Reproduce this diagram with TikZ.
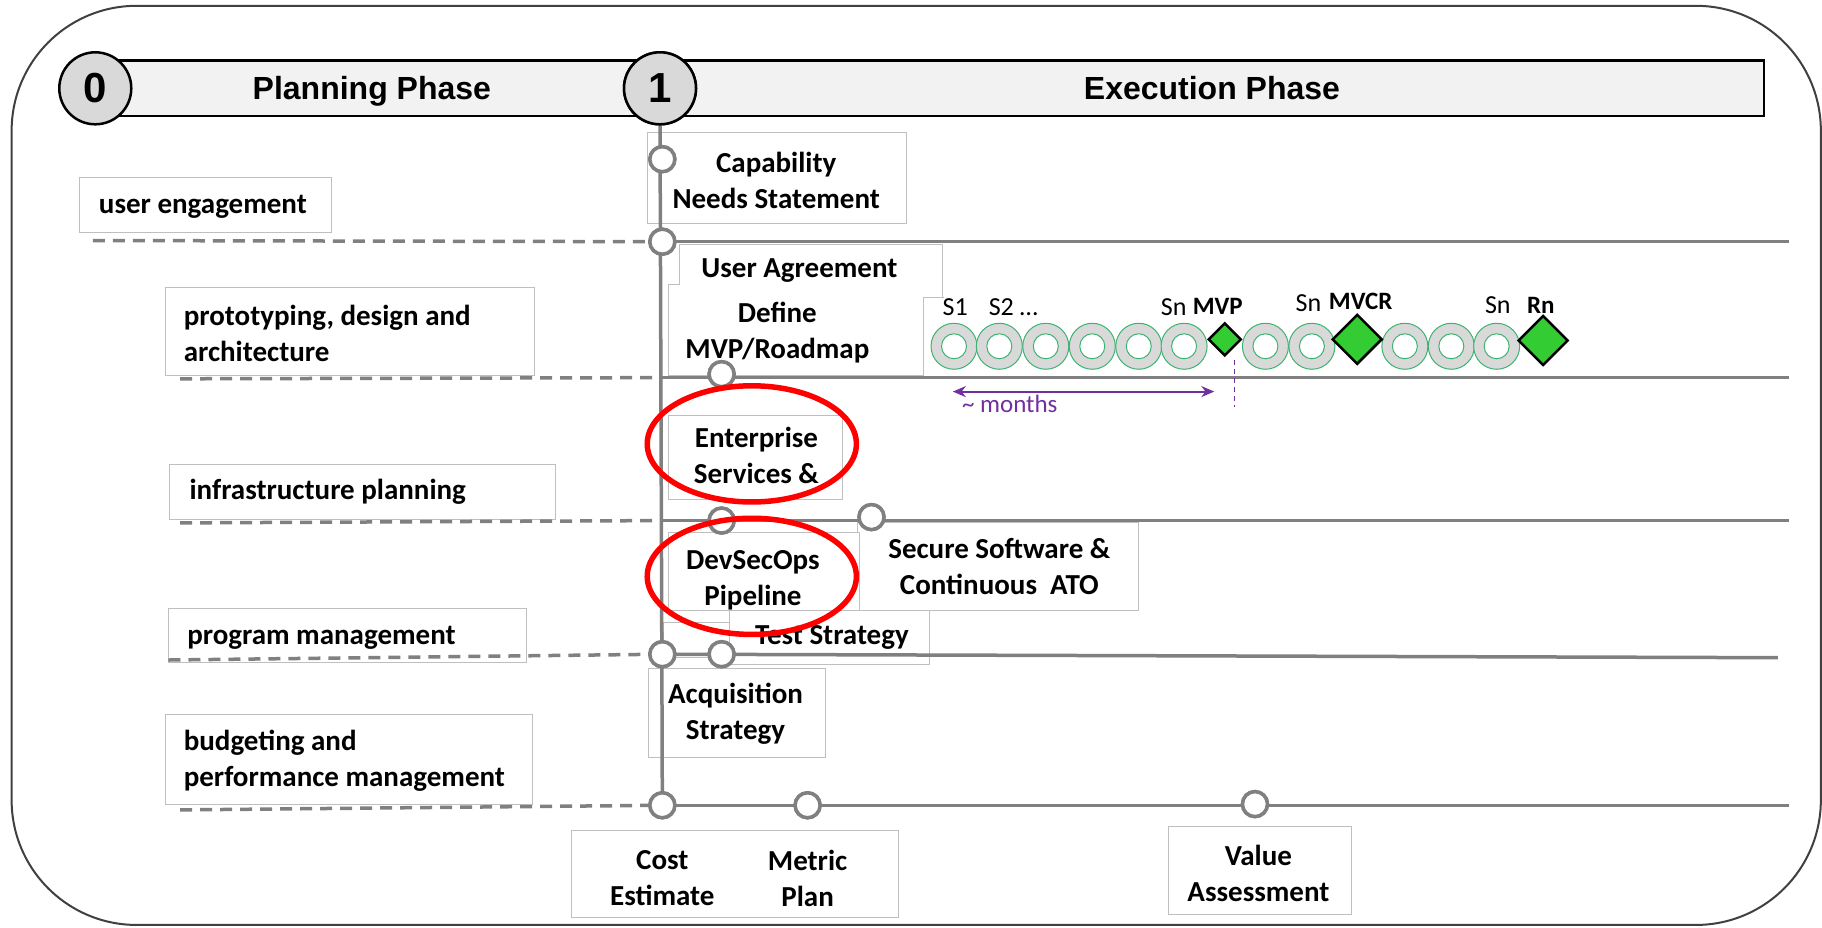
\documentclass[tikz,border=0pt]{standalone}
\usepackage{fontspec}
\setmainfont{Carlito}
\newfontfamily\arialf{Liberation Sans}
\usetikzlibrary{fit,arrows.meta,shapes.geometric}
\definecolor{outerc}{HTML}{404040}
\definecolor{hdrfill}{HTML}{F2F2F2}
\definecolor{phfill}{HTML}{D9D9D9}
\definecolor{boxgray}{HTML}{BFBFBF}
\definecolor{lgray}{HTML}{808080}
\definecolor{sgreen}{HTML}{3CB371}
\definecolor{dgreen}{HTML}{33CC33}
\definecolor{purp}{HTML}{7030A0}
\definecolor{redc}{HTML}{FF0000}
\begin{document}
\begin{tikzpicture}[x=1.162pt,y=-1.162pt,
  lbox/.style={draw=boxgray, line width=1pt, fill=white, inner sep=0pt},
  ltxt/.style={font=\bfseries\fontsize{29}{36}\selectfont, align=center, inner sep=0pt},
  lefttxt/.style={ltxt, align=left, anchor=west},
  htxt/.style={font=\arialf\bfseries\fontsize{32}{38}\selectfont, inner sep=0pt, anchor=base},
  phase/.style={circle, draw=black, line width=2.5pt, fill=phfill, minimum size=72pt, inner sep=0pt, font=\arialf\bfseries\fontsize{42}{46}\selectfont},
  ms/.style={circle, draw=lgray, line width=3.5pt, fill=white, minimum size=25pt, inner sep=0pt},
  solidl/.style={draw=lgray, line width=3.5pt},
  dashl/.style={draw=lgray, line width=3.5pt, dash pattern=on 12pt off 8pt},
  sprO/.style={circle, draw=sgreen, line width=1pt, fill=phfill, minimum size=46pt, inner sep=0pt},
  sprI/.style={circle, draw=sgreen, line width=1pt, fill=white, minimum size=25pt, inner sep=0pt},
  dmd/.style={diamond, draw=black, line width=2.5pt, fill=dgreen, inner sep=0pt, aspect=1},
  stxt/.style={font=\fontsize{26}{30}\selectfont, inner sep=0pt},
  sbtxt/.style={font=\bfseries\fontsize{25}{30}\selectfont, inner sep=0pt},
  ellip/.style={draw=redc, line width=5.5pt}
]
\useasboundingbox (0,0) rectangle (1568,798);

% outer frame
\draw[draw=outerc, line width=2pt, rounded corners=125pt] (10,5) rectangle (1567,796);

% header
\node[draw=black, line width=2.5pt, fill=hdrfill, inner sep=0pt, fit={(82,52) (1518,100)}] (hdr) {};
\node[htxt] (tplan) at (320,86) {Planning Phase};
\node[htxt] (texec) at (1043,86) {Execution Phase};

% left label boxes
\node[lbox, fit={(68,153) (285,200)}] (bue) {};
\node[lbox, fit={(142,247) (460,323)}] (bpd) {};
\node[lbox, fit={(146,400) (478,447)}] (bip) {};
\node[lbox, fit={(145,524) (453,570)}] (bpm) {};
\node[lbox, fit={(142,615) (458,692)}] (bbp) {};

% middle boxes
\node[lbox, fit={(557,114) (780,192)}] (bcap) {};
% merged outline of User Agreement / Define boxes and the sprint-row box corner
\draw[draw=boxgray, line width=1pt, fill=white]
  (585,210) -- (811,210) -- (811,256) -- (795,256) -- (795,323) -- (575,323)
  -- (575,245) -- (585,245) -- cycle;
\draw[draw=boxgray, line width=1pt] (795,323) -- (795,256) -- (812,256);
\node[lbox, fit={(575,358) (725,430)}] (bent) {};
\node[lbox, fit={(738,450) (980,525)}] (bsec) {};
\node[lbox, fit={(575,458) (740,525)}] (bdev) {};
\node[lbox, fit={(628,525) (800,572)}] (btest) {};
\node[lbox, fit={(571,536) (628,566)}] (bsmall) {};
\node[lbox, fit={(558,575) (710,652)}] (bacq) {};
\node[lbox, fit={(492,715) (773,790)}] (bcost) {};
\node[lbox, fit={(1006,711) (1163,787)}] (bval) {};

% milestone nodes
\node[phase] (p0) at (82,76) {0};
\node[phase] (p1) at (568,76) {1};
\node[ms] (mcap) at (570,137) {};
\node[ms] (mue) at (570,208) {};
\node[ms] (mdef) at (621,322) {};
\node[ms] (ment) at (621,448) {};
\node[ms] (msec) at (750,445) {};
\node[ms] (macq) at (570,563) {};
\node[ms] (mtest) at (621,563) {};
\node[ms] (mcost) at (570,693) {};
\node[ms] (mmet) at (695,693) {};
\node[ms] (mval) at (1080,692) {};

% coordinates for line ends
\coordinate (d1) at (80,207);  \coordinate (r1) at (1540,208);
\coordinate (d2) at (155,326); \coordinate (v2) at (570,325); \coordinate (r2) at (1540,325);
\coordinate (d3) at (155,450); \coordinate (v3) at (570,448); \coordinate (r3) at (1540,448);
\coordinate (d4) at (145,568); \coordinate (r4) at (1530,566);
\coordinate (d5) at (155,697); \coordinate (r5) at (1540,693);

% lines
\draw[solidl] (p1.south) -- (mcost.center);
\draw[dashl] (d1) -- (mue.center);
\draw[solidl] (mue.center) -- (r1);
\draw[dashl] (d2) -- (v2);
\draw[solidl] (v2) -- (r2);
\draw[dashl] (d3) -- (v3);
\draw[solidl] (v3) -- (r3);
\draw[dashl] (d4) -- (macq.center);
\draw[solidl] (macq.center) -- (r4);
\draw[dashl] (d5) -- (mcost.center);
\draw[solidl] (mcost.center) -- (r5);

% redraw milestones on top of the lines
\foreach \n in {mcap,mue,mdef,ment,msec,macq,mtest,mcost,mmet,mval}
  \node[ms] at (\n) {};
\node[phase] at (p1) {1};

% sprint row
\foreach \i/\x in {1/821,2/860,3/900,4/940,5/980,6/1019,7/1089,8/1129,9/1209,10/1249,11/1288}{
  \node[sprO] (sp\i) at (\x,298) {};
  \node[sprI] at (sp\i) {};
}
\node[dmd, minimum width=33pt, minimum height=33pt] (dmvp) at (1054,292) {};
\node[dmd, minimum width=50pt, minimum height=50pt] (dmvcr) at (1168,292) {};
\node[dmd, minimum width=50pt, minimum height=50pt] (drn) at (1328,293) {};

\node[stxt] (ls1) at (822,264) {S1};
\node[stxt] (ls2) at (872,264) {S2 …};
\node[stxt] (lsn1) at (1010,264) {Sn};
\node[sbtxt] (lmvp) at (1048,264) {MVP};
\node[stxt] (lsn2) at (1126,261) {Sn};
\node[sbtxt] (lmvcr) at (1171,259) {MVCR};
\node[stxt] (lsn3) at (1289,263) {Sn};
\node[sbtxt] (lrn) at (1326,263) {Rn};

% months arrow
\coordinate (am1) at (820,337);
\coordinate (am2) at (1045,337);
\draw[draw=purp, line width=2pt, {Stealth[length=13pt,width=11pt]}-{Stealth[length=13pt,width=11pt]}] (am1) -- (am2);
\node[font=\fontsize{25}{28}\selectfont, text=purp, inner sep=0pt] (lmon) at (869,348) {\textasciitilde{} months};
\coordinate (mv1) at (1062,310);
\coordinate (mv2) at (1062,350);
\draw[draw=purp, line width=1pt, dash pattern=on 5pt off 4pt] (mv1) -- (mv2);

% texts
\node[lefttxt] (tue) at (85,178) {user engagement};
\node[lefttxt] (tpd) at (158,287) {prototyping, design and\\architecture};
\node[lefttxt] (tip) at (163,423) {infrastructure planning};
\node[lefttxt] (tpm) at (161,549) {program management};
\node[lefttxt] (tbp) at (158,655) {budgeting and\\performance management};

\node[ltxt] (tcap) at (668,155) {Capability\\Needs Statement};
\node[ltxt] (tua) at (688,233) {User Agreement};
\node[ltxt] (tdef) at (669,286) {Define\\MVP/Roadmap};
\node[ltxt] (tent) at (651,392) {Enterprise\\Services \&};
\node[ltxt] (tdev) at (648,499) {DevSecOps\\Pipeline};
\node[ltxt] (tsec) at (860,487.5) {Secure Software \&\\Continuous~ ATO};
\node[ltxt] (ttest) at (716,549) {Test Strategy};
\node[ltxt] (tacq) at (633,614) {Acquisition\\Strategy};
\node[ltxt] (tcost) at (570,756) {Cost\\Estimate};
\node[ltxt] (tmet) at (695,756) {Metric\\Plan};
\node[ltxt] (tval) at (1083,751.5) {Value\\Assessment};

% red ellipses
\draw[ellip] (647,382) ellipse [x radius=90, y radius=50];
\draw[ellip] (647,496) ellipse [x radius=90, y radius=50];
\end{tikzpicture}
\end{document}
